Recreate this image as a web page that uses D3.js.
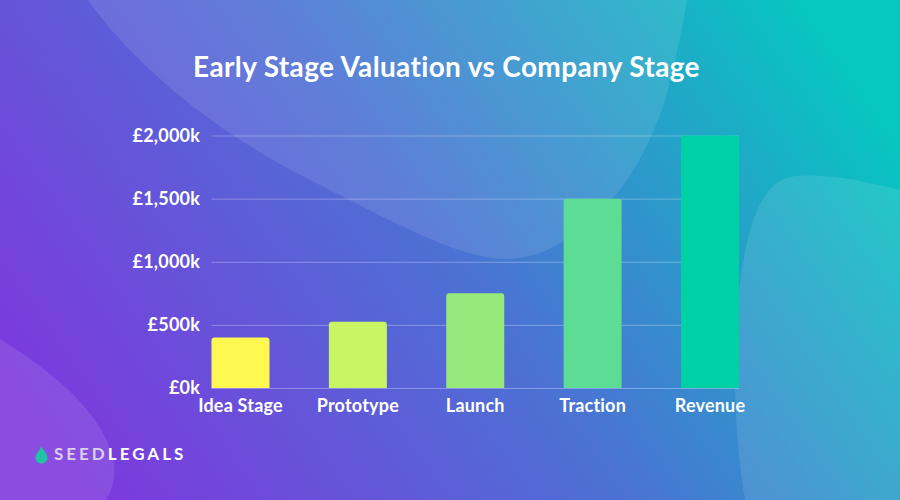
<!DOCTYPE html>
<html>
<head>
<meta charset="utf-8">
<script src="https://cdn.jsdelivr.net/npm/d3@7"></script>
<style>
  html, body { margin: 0; padding: 0; overflow: hidden; }
  svg { display: block; }
  text { font-family: Lato, "Open Sans", sans-serif; fill: #fff; }
  .axis-label { font-size: 18px; font-weight: 700; letter-spacing: 0.2px; }
</style>
</head>
<body>
<svg width="900" height="500"></svg>
<script>
const STAGES = ["Idea Stage", "Prototype", "Launch", "Traction", "Revenue"];
const VALUATIONS = [400, 525, 750, 1500, 2000];
const BAR_COLORS = ["#fff850", "#c9f464", "#96ea7c", "#5cdc94", "#00d1a4"];
const Y_TICKS = [0, 500, 1000, 1500, 2000];
const Y_TICK_LABELS = ["£0k", "£500k", "£1,000k", "£1,500k", "£2,000k"];

// LAYOUT
const WIDTH = 900, HEIGHT = 500;
const PLOT = {left: 211.5, right: 739, top: 135.5, bottom: 388};

const svg = d3.select("svg");
const defs = svg.append("defs");

const bgGrad = defs.append("linearGradient")
    .attr("id", "bg")
    .attr("gradientUnits", "userSpaceOnUse")
    .attr("x1", 90).attr("y1", 500).attr("x2", 810).attr("y2", 0);
bgGrad.append("stop").attr("offset", "0").attr("stop-color", "#7e38de");
bgGrad.append("stop").attr("offset", "0.5").attr("stop-color", "#4c71d4");
bgGrad.append("stop").attr("offset", "1").attr("stop-color", "#06c8c0");

svg.append("rect").attr("width", WIDTH).attr("height", HEIGHT).attr("fill", "url(#bg)");

// background blobs
const blobs = [
    "M88,0 C130,60 210,130 310,180 C380,215 450,255 500,259 C570,262 640,190 668,90 C678,50 684,20 687,0 Z",
    "M0,339 C50,370 100,410 112,455 C118,475 112,490 106,500 L0,500 Z",
    "M900,190 C860,180 820,172 790,177 C760,183 745,230 738,300 C732,370 735,440 745,500 L900,500 Z"
];
svg.selectAll(".blob")
    .data(blobs)
    .enter()
    .append("path")
    .attr("class", "blob")
    .attr("d", d => d)
    .attr("fill", "#fff")
    .attr("fill-opacity", 0.1);

const x = d3.scaleBand()
    .domain(STAGES)
    .range([PLOT.left, PLOT.right])
    .paddingInner(0.506)
    .paddingOuter(0);

const y = d3.scaleLinear()
    .domain([0, 2000])
    .range([PLOT.bottom, PLOT.top]);

svg.append("text")
    .attr("x", 446.5)
    .attr("y", 77)
    .attr("text-anchor", "middle")
    .attr("font-size", 28)
    .attr("font-weight", 700)
    .attr("letter-spacing", 0.35)
    .text("Early Stage Valuation vs Company Stage");

// y axis, ticks drawn as gridlines
const yAxis = svg.append("g")
    .attr("class", "y-axis")
    .attr("transform", `translate(${PLOT.left},0)`)
    .call(d3.axisLeft(y)
        .tickValues(Y_TICKS)
        .tickFormat((d, i) => Y_TICK_LABELS[i])
        .tickSize(-(PLOT.right - PLOT.left))
        .tickPadding(11.5));
yAxis.select(".domain").remove();
yAxis.selectAll("line").attr("stroke", "#fff").attr("stroke-opacity", 0.3).attr("stroke-width", 1);
yAxis.selectAll("text").attr("class", "axis-label").attr("fill", "#fff").attr("font-family", null).attr("font-size", null);

svg.selectAll(".bar")
    .data(VALUATIONS)
    .enter()
    .append("path")
    .attr("class", "bar")
    .attr("fill", (d, i) => BAR_COLORS[i])
    .attr("d", (d, i) => {
        const x0 = x(STAGES[i]), w = x.bandwidth(), top = y(d), r = 3;
        return `M${x0},${y(0)}V${top + r}Q${x0},${top} ${x0 + r},${top}H${x0 + w - r}Q${x0 + w},${top} ${x0 + w},${top + r}V${y(0)}Z`;
    });

const xAxis = svg.append("g")
    .attr("class", "x-axis")
    .attr("transform", `translate(0,${PLOT.bottom})`)
    .call(d3.axisBottom(x).tickSize(0).tickPadding(11));
xAxis.select(".domain").remove();
xAxis.selectAll("text").attr("class", "axis-label").attr("fill", "#fff").attr("font-family", null).attr("font-size", null);

// logo
svg.append("path")
    .attr("d", "M41.5,446.5 C44,451 47.5,454 47.5,457.5 C47.5,461 44.8,463.5 41.5,463.5 C38.2,463.5 35.5,461 35.5,457.5 C35.5,454 39,451 41.5,446.5 Z")
    .attr("fill", "#20c4a4");
const logo = svg.append("text")
    .attr("x", 54)
    .attr("y", 460)
    .attr("font-size", 17)
    .attr("font-weight", 700)
    .attr("letter-spacing", 3);
logo.append("tspan").style("fill", "#d8d0ec").text("SEED");
logo.append("tspan").text("LEGALS");
</script>
</body>
</html>
